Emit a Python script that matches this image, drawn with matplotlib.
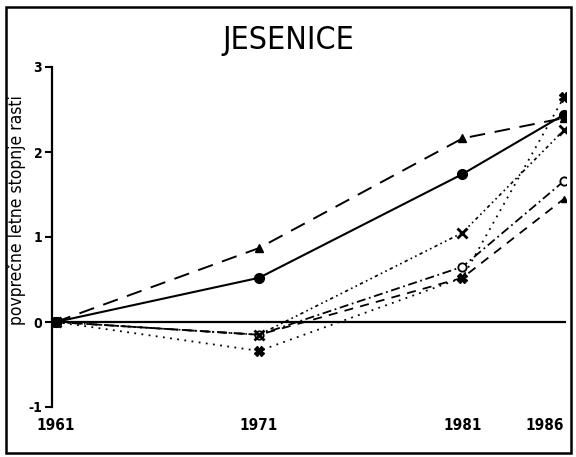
import matplotlib
matplotlib.use("Agg")
import matplotlib.pyplot as plt
from matplotlib.patches import Rectangle

plt.rcParams['font.family'] = ['DejaVu Sans']
plt.rcParams['font.stretch'] = 'condensed'

years = [1961, 1971, 1981, 1986]
year_labels = ['1961', '1971', '1981', '1986']

# povprecne letne stopnje rasti, series
s_circle = [0.0, 0.52, 1.74, 2.44]
s_triangle = [0.0, 0.87, 2.16, 2.40]
s_cross = [0.0, -0.15, 1.05, 2.26]
s_open = [0.0, -0.15, 0.65, 1.66]
s_dash = [0.0, -0.15, 0.52, 1.45]
s_dotted = [0.0, -0.34, 0.52, 2.65]

fig = plt.figure(figsize=(5.76, 4.57), dpi=100)
W, H = 576, 457
ax = fig.add_axes([52 / W, 1 - 407 / H, (566 - 52) / W, (407 - 67) / H])

ax.axhline(0, color='black', lw=1.6, zorder=1)

ax.plot(years, s_dotted, color='black', lw=1.3, ls=(0, (1, 3)),
        marker='X', ms=7, mfc='black', mec='black')
ax.plot(years, s_dash, color='black', lw=1.3, ls=(0, (5, 4)),
        marker='^', ms=5, mfc='black', mec='black')
ax.plot(years, s_open, color='black', lw=1.3, ls=(0, (5, 2, 1, 2)),
        marker='o', ms=6, mfc='white', mec='black', mew=1.3)
ax.plot(years, s_cross, color='black', lw=1.2, ls=(0, (2, 2, 1, 2, 1, 2)),
        marker='x', ms=7, mec='black', mew=2)
ax.plot(years, s_triangle, color='black', lw=1.4, ls=(0, (8, 5)),
        marker='^', ms=6, mfc='black', mec='black')
ax.plot(years, s_circle, color='black', lw=1.5, ls='-',
        marker='o', ms=7, mfc='black', mec='black')

ax.set_xlim(1960.82, 1986.09)
ax.set_ylim(-1, 3)
ax.set_yticks([-1, 0, 1, 2, 3])
ax.set_yticklabels(['-1', '0', '1', '2', '3'], fontsize=10, fontweight='bold')
ax.set_xticks(years)
ax.set_xticklabels(year_labels, fontsize=11, fontweight='bold')
ax.tick_params(axis='x', length=0, pad=8)
ax.tick_params(axis='y', direction='out', length=5, width=1.5, pad=2)
ax.get_xticklabels()[-1].set_horizontalalignment('right')

for side in ['top', 'right', 'bottom']:
    ax.spines[side].set_visible(False)
ax.spines['left'].set_linewidth(1.6)
ax.spines['left'].set_bounds(-1, 3)
ax.patch.set_visible(False)

ax.set_ylabel('povprečne letne stopnje rasti', fontsize=12.5)
ax.yaxis.set_label_coords(-0.05, 0.58)

fig.text(0.5, 1 - 40 / H, 'JESENICE', ha='center', va='center', fontsize=23)

fig.patches.append(Rectangle((6 / W, 4 / H), (571 - 6) / W, (452 - 6) / H,
                             transform=fig.transFigure, fill=False,
                             edgecolor='black', lw=1.8))

fig.savefig('out.png', dpi=100)
